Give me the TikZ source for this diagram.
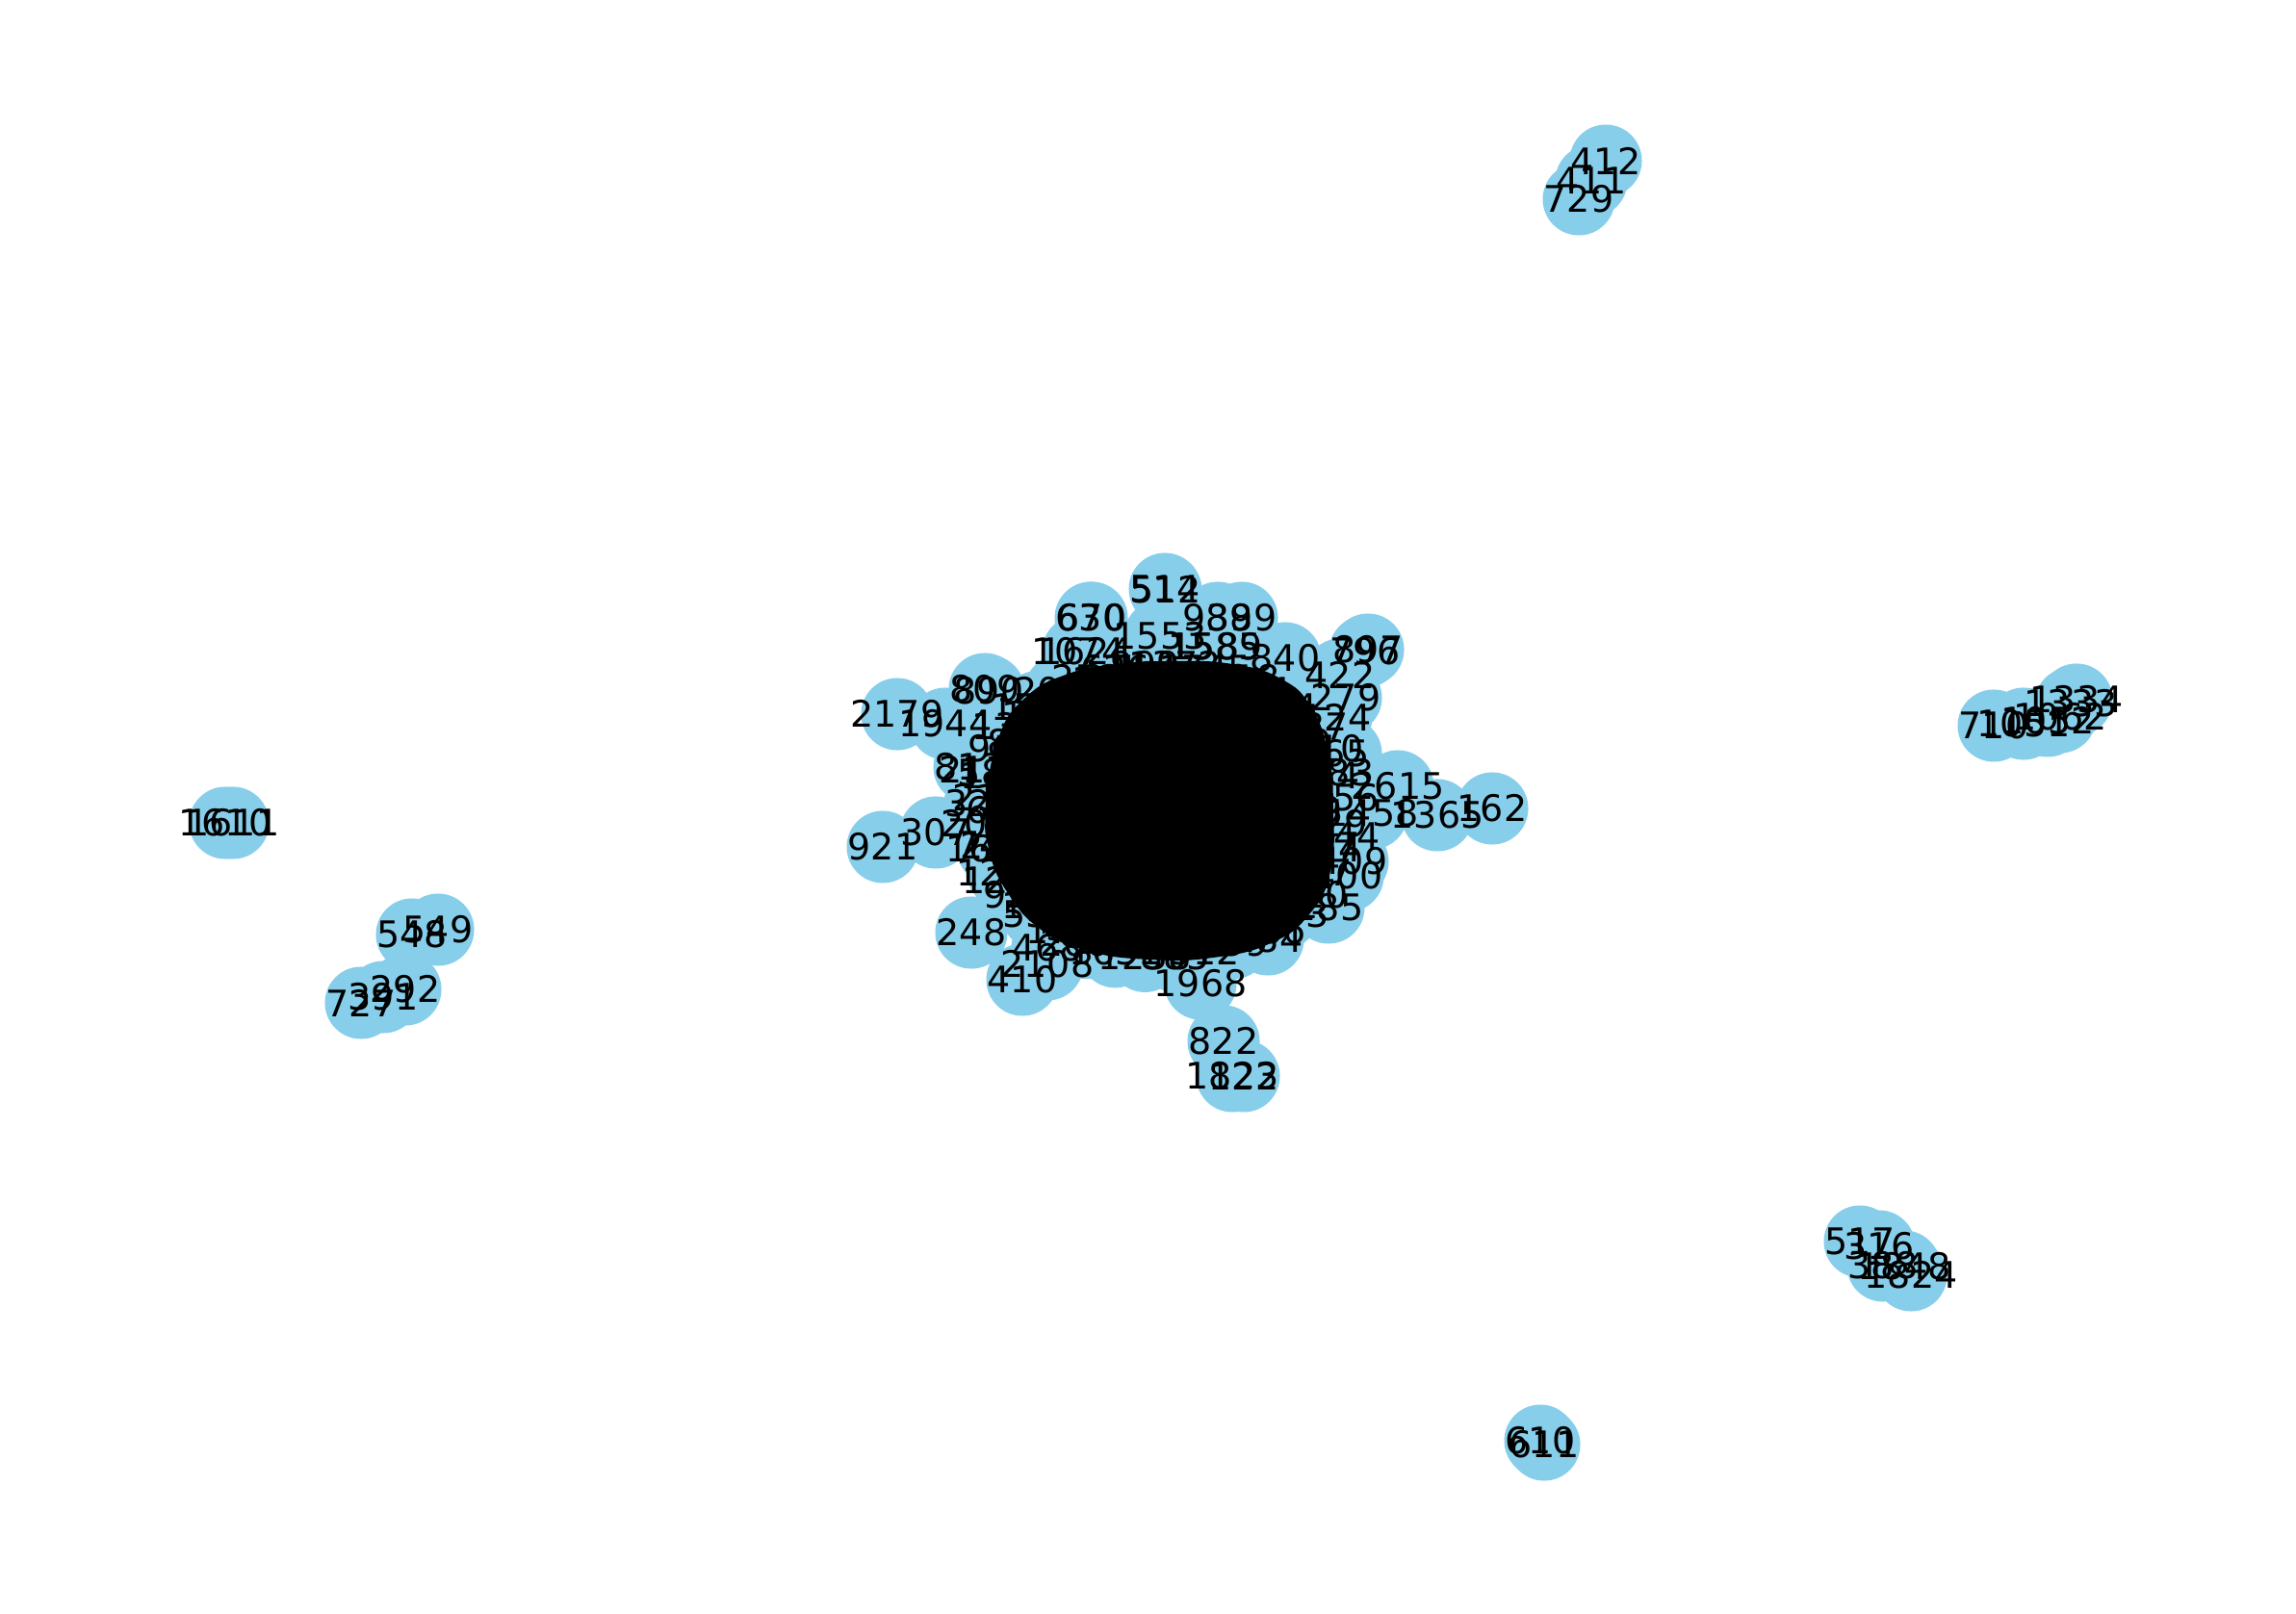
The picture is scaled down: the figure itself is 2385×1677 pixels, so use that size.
\documentclass[tikz,border=0pt]{standalone}
\usepackage{fontspec}
\setmainfont{DejaVu Sans}
\definecolor{skyblue}{HTML}{87CEEB}
\pgfdeclarelayer{background}
\pgfsetlayers{background,main}
\tikzset{
  nd/.style={circle,fill=skyblue,minimum size=0.75cm,inner sep=0pt,outer sep=0pt},
  lb/.style={inner sep=0pt,font=\fontsize{10.8}{12}\selectfont,text=black},
  ed/.style={draw=black,line width=0.6pt},
  blobfill/.style={fill=black}
}
\def\peri{412/1668/167, 411/1653/188, 729/1640/207,
710/2071/754, 1051/2102/752, 1052/2127/749, 1062/2140/745, 1333/2151/731, 1334/2157/727,
1610/234/855, 1611/242/855,
548/428/971, 549/455/966,
727/375/1042, 391/398/1036, 292/421/1028,
517/1932/1290, 316/1952/1295, 388/1956/1315, 1848/1978/1316, 1824/1985/1325,
610/1600/1497, 611/1604/1501,
822/1271/1082, 1823/1280/1118, 122/1292/1118,
1968/1247/1022,
410/1062/1018, 2108/1088/1002, 468/1088/985, 248/1009/969,
921/917/880, 307/972/865,
2179/932/742, 1944/982/752,
809/1023/716, 890/1027/718,
812/1007/797, 212/1012/799, 325/1018/835, 742/1030/877, 1203/1048/915,
514/1210/612, 512/1211/613,
630/1133/642, 670/1134/642,
989/1265/642, 389/1290/642,
1553/1205/661,
1074/1120/677, 1624/1128/677,
1585/1262/672, 1589/1263/672,
840/1335/684,
897/1421/675, 796/1418/677,
422/1392/701,
279/1398/725, 124/1388/745, 65/1398/783,
2615/1452/817, 1458/1425/845, 1365/1493/847, 162/1550/840,
2144/1385/868, 409/1405/895, 400/1400/910, 285/1380/943, 284/1317/976}
\def\ring{1087,553,2031,76,1190,934,1502,318,1777,45,2290,663,1409,807,1926,231,1348,95,2066,472,1711,880,1254,39}
\def\edges{412/411, 411/729, 710/1051, 1051/1052, 1052/1062, 1062/1333, 1333/1334,
1610/1611, 548/549, 727/391, 391/292, 517/316, 316/388, 388/1848, 1848/1824, 610/611,
1823/822, 122/1823, 822/1968, 1968/hub,
410/2108, 2108/468, 468/hub, 248/410,
921/307, 307/325, 325/hub,
2179/1944, 1944/809, 809/hub, 890/hub, 812/hub, 212/hub, 742/hub, 1203/hub,
514/1553, 512/hub, 1553/hub,
630/1074, 670/1624, 1074/hub, 1624/hub,
989/1585, 389/1589, 1585/hub, 1589/hub,
840/hub, 897/796, 796/422, 422/hub, 279/hub, 124/hub, 65/hub,
2615/1458, 1458/hub, 1365/1458, 162/1365, 1365/2615,
2144/hub, 409/hub, 400/hub, 285/hub, 284/hub}
\begin{document}
\begin{tikzpicture}[x=0.01cm,y=-0.01cm]
\useasboundingbox[fill=white] (0,0) rectangle (2385,1677);
\node[coordinate] (nhub) at (1205,842) {};
% nodes (circles)
\foreach \n/\x/\y in \peri { \node[nd] (n\n) at (\x,\y) {}; }
\foreach \t [count=\i] in \ring {
  \pgfmathsetmacro\ang{\i*15}
  \node[nd] (n\t) at ({1205+165*cos(\ang)},{842+140*sin(\ang)}) {};
}
\foreach \i in {1,...,36} {
  \pgfmathsetmacro\ang{\i*10+5}
  \node[nd] (q\i) at ({1205+180*cos(\ang)},{842+152*sin(\ang)}) {};
}
% connectors
\begin{pgfonlayer}{background}
\foreach \a/\b in \edges { \draw[ed] (n\a) -- (n\b); }
\foreach \t in \ring { \draw[ed] (n\t) -- (nhub); }
\foreach \i in {1,...,36} { \draw[ed] (q\i) -- (nhub); }
\end{pgfonlayer}
% dense core of overlapping edges and labels
\fill[blobfill] plot[smooth cycle, tension=0.8] coordinates {
 (1024,842) (1036,770) (1065,725) (1110,700) (1160,690) (1220,687) (1280,690)
 (1330,705) (1362,735) (1380,785) (1385,842) (1382,905) (1360,950) (1320,980)
 (1260,995) (1195,997) (1130,988) (1080,965) (1045,925) (1028,885)};
% labels
\foreach \n/\x/\y in \peri { \node[lb] (l\n) at (n\n) {\n}; }
\foreach \t in \ring { \node[lb] (l\t) at (n\t) {\t}; }
\foreach \i in {1,...,36} {
  \pgfmathtruncatemacro\lab{mod(\i*373+101,2200)}
  \node[lb] (lq\i) at (q\i) {\lab};
}
\end{tikzpicture}
\end{document}
